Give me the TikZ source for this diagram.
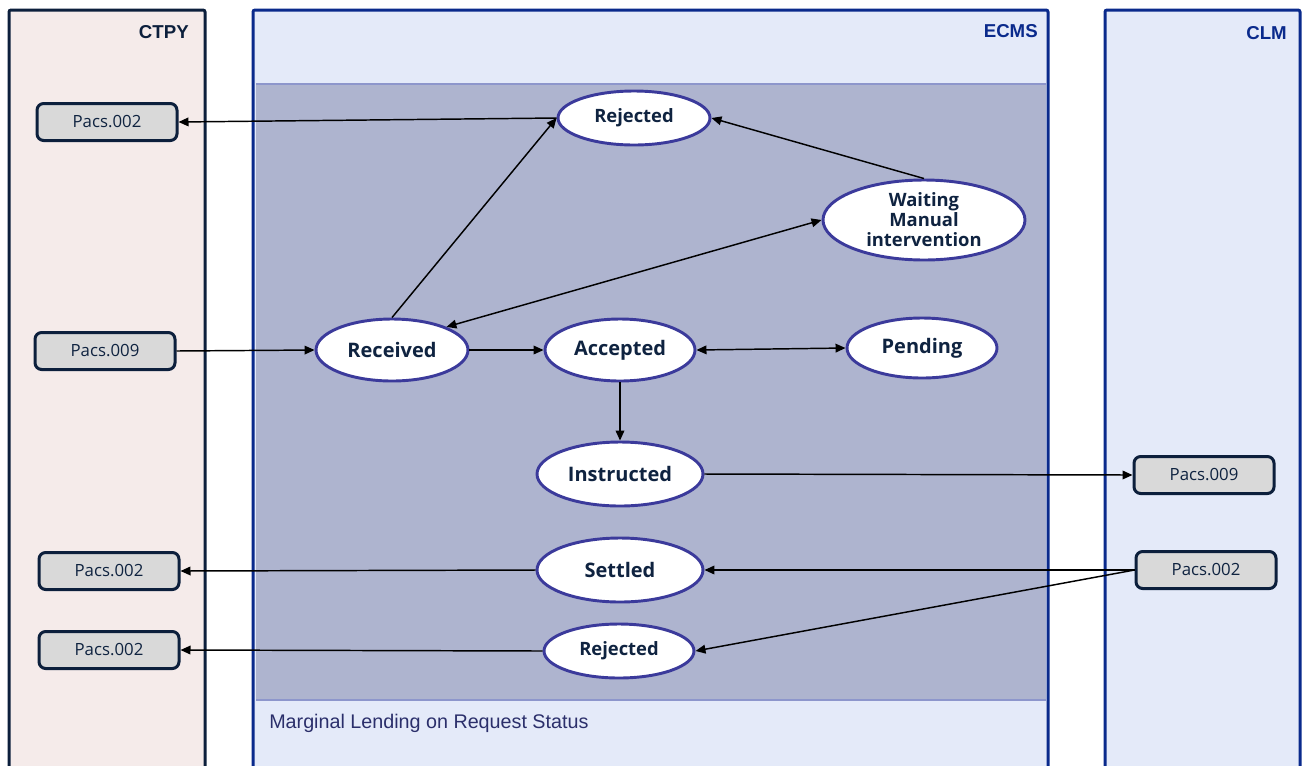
\documentclass[tikz,border=0pt]{standalone}
\usepackage{fontspec}
\setmainfont{Open Sans}
\newfontfamily\lanefont{Liberation Sans}
\usetikzlibrary{shapes.geometric}
\usetikzlibrary{arrows.meta}
\definecolor{ctpyfill}{HTML}{F5EBEA}
\definecolor{ctpyline}{HTML}{0C1F3C}
\definecolor{ecmsfill}{HTML}{E4EAF9}
\definecolor{ecmsline}{HTML}{0A2A8C}
\definecolor{innerfill}{HTML}{AEB4CF}
\definecolor{innerline}{HTML}{8D96CC}
\definecolor{stateline}{HTML}{3B3A9B}
\definecolor{statetext}{HTML}{0F2340}
\definecolor{msgfill}{HTML}{D9D9D9}
\definecolor{notetext}{HTML}{2B2F6B}
\tikzstyle{lane}=[line width=2.25pt, rounded corners=1.5pt]
\tikzstyle{lanelabel}=[anchor=east, inner sep=0, font=\lanefont\bfseries\fontsize{14}{16}\selectfont]
\tikzstyle{state}=[ellipse, draw=stateline, line width=2.2pt, fill=white, inner sep=0, text=statetext, align=center]
\tikzstyle{bigstate}=[state, font=\bfseries\fontsize{15}{17}\selectfont]
\tikzstyle{smallstate}=[state, font=\bfseries\fontsize{13.8}{15}\selectfont]
\tikzstyle{msg}=[draw=ctpyline, fill=msgfill, line width=2.25pt, rounded corners=5pt, inner sep=0,
                 minimum width=105pt, minimum height=27.75pt, text=statetext, font=\fontsize{12.6}{14}\selectfont]
\tikzstyle{flow}=[-{Triangle[length=7.5pt, width=6.5pt]}, line width=1.1pt]
\tikzstyle{biflow}=[{Triangle[length=7.5pt, width=6.5pt]}-{Triangle[length=7.5pt, width=6.5pt]}, line width=1.1pt]
\begin{document}
\begin{tikzpicture}[x=0.75pt, y=-0.75pt]
        \clip (0, 0) rectangle (1306, 765);
        \fill[white] (0, 0) rectangle (1306, 765);
        % lanes
        \draw[lane, draw=ctpyline, fill=ctpyfill] (9, 10) rectangle (205, 790);
        \fill[ecmsfill] (253, 10) rectangle (1048, 790);
        \fill[innerfill] (256, 84) rectangle (1046, 700);
        \draw[innerline, line width=1.6pt] (256, 84) -- (1046, 84);
        \draw[innerline, line width=1.6pt] (256, 700) -- (1046, 700);
        \draw[lane, draw=ecmsline] (253, 10) rectangle (1048, 790);
        \draw[lane, draw=ecmsline, fill=ecmsfill] (1105, 10) rectangle (1300, 790);
        \node[lanelabel, text=ctpyline] (ctpy) at (189, 32) {CTPY};
        \node[lanelabel, text=ecmsline] (ecms) at (1038, 31) {ECMS};
        \node[lanelabel, text=ecmsline] (clm)  at (1287, 33) {CLM};
        \node[anchor=west, inner sep=0, text=notetext, font=\lanefont\fontsize{14.8}{16}\selectfont] (title) at (269, 723) {Marginal Lending on Request Status};
        % states
        \node[smallstate, minimum width=114pt, minimum height=40.5pt]   (rejA) at (634, 118) {Rejected};
        \node[smallstate, inner sep=-4pt, minimum width=151.5pt, minimum height=60pt] (wait) at (924, 220) {Waiting\\Manual\\intervention};
        \node[bigstate, minimum width=114pt, minimum height=46.5pt]     (recv) at (392, 350) {Received};
        \node[bigstate, minimum width=112.5pt, minimum height=46.5pt]   (acc)  at (620, 350) {Accepted};
        \node[bigstate, minimum width=112.5pt, minimum height=45pt]     (pend) at (922, 348) {Pending};
        \node[bigstate, minimum width=124.5pt, minimum height=48pt]     (inst) at (620, 474) {Instructed};
        \node[bigstate, minimum width=124.5pt, minimum height=48pt]     (sett) at (620, 570) {Settled};
        \node[smallstate, minimum width=112.5pt, minimum height=40.5pt] (rejB) at (619, 651) {Rejected};
        % messages
        \node[msg] (ctpyA)  at (107, 122)  {Pacs.002};
        \node[msg] (ctpyIn) at (105, 351)  {Pacs.009};
        \node[msg] (ctpyB)  at (109, 571)  {Pacs.002};
        \node[msg] (ctpyC)  at (109, 650)  {Pacs.002};
        \node[msg] (clmOut) at (1204, 475) {Pacs.009};
        \node[msg] (clmIn)  at (1206, 570) {Pacs.002};
        % transitions
        \draw[flow] (rejA.west) -- (ctpyA.east);
        \draw[flow] (recv.north) -- (rejA.west);
        \draw[flow] (wait.north) -- (rejA.east);
        \draw[biflow] (recv.23) -- (wait.west);
        \draw[flow] (ctpyIn.east) -- (recv.west);
        \draw[flow] (recv.east) -- (acc.west);
        \draw[biflow] (acc.east) -- (pend.west);
        \draw[flow] (acc.south) -- (inst.north);
        \draw[flow] (inst.east) -- (clmOut.west);
        \draw[flow] (clmIn.west) -- (sett.east);
        \draw[flow] (clmIn.west) -- (rejB.east);
        \draw[flow] (sett.west) -- (ctpyB.east);
        \draw[flow] (rejB.west) -- (ctpyC.east);
\end{tikzpicture}
\end{document}
